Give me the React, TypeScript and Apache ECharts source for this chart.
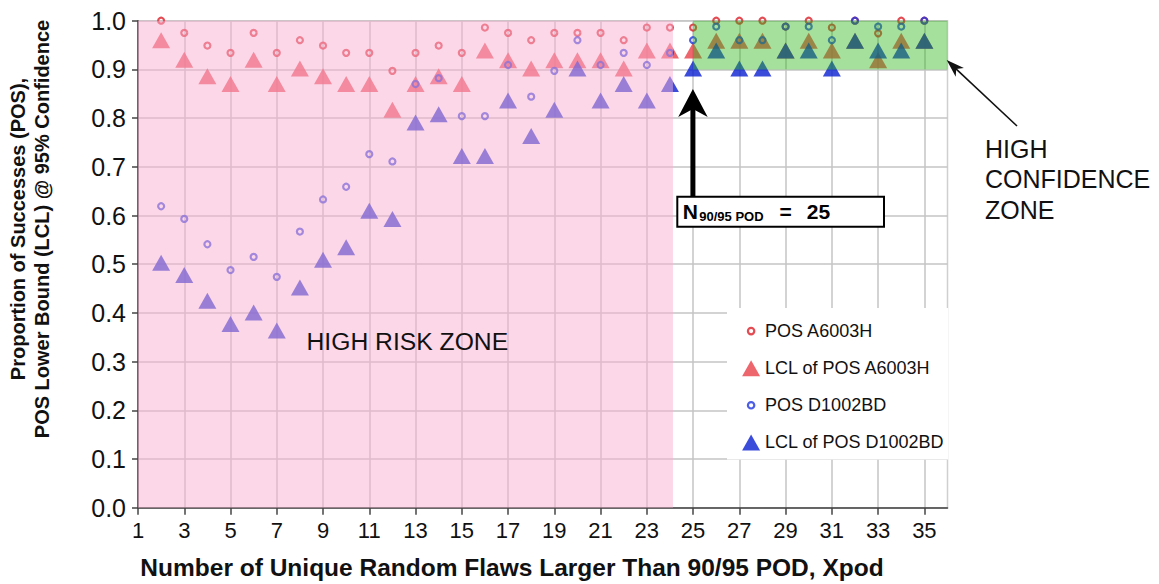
import React, { useEffect, useRef } from "react";
import * as echarts from "echarts";

const FONT = "'Liberation Sans', Arial, Helvetica, sans-serif";

const xValues = [2, 3, 4, 5, 6, 7, 8, 9, 10, 11, 12, 13, 14, 15, 16, 17, 18, 19, 20, 21, 22, 23, 24, 25, 26, 27, 28, 29, 30, 31, 32, 33, 34, 35];

const posA6003H = [1.0, 0.975, 0.949, 0.934, 0.975, 0.934, 0.96, 0.949, 0.934, 0.934, 0.897, 0.934, 0.949, 0.934, 0.986, 0.975, 0.96, 0.975, 0.975, 0.975, 0.96, 0.986, 0.986, 0.986, 1.0, 1.0, 1.0, 0.988, 1.0, 0.986, 1.0, 0.974, 1.0, 1.0];

const lclA6003H = [0.96, 0.92, 0.886, 0.87, 0.92, 0.87, 0.902, 0.886, 0.87, 0.87, 0.817, 0.87, 0.886, 0.87, 0.939, 0.919, 0.902, 0.919, 0.919, 0.919, 0.902, 0.939, 0.939, 0.939, 0.959, 0.959, 0.959, 0.939, 0.959, 0.939, 0.959, 0.919, 0.959, 0.959];

const posD1002BD = [0.619, 0.593, 0.541, 0.488, 0.515, 0.474, 0.567, 0.633, 0.659, 0.726, 0.711, 0.87, 0.882, 0.804, 0.804, 0.909, 0.844, 0.897, 0.96, 0.909, 0.934, 0.909, 0.934, 0.96, 0.988, 0.96, 0.96, 0.988, 0.988, 0.96, 1.0, 0.988, 0.988, 1.0];

const lclD1002BD = [0.503, 0.478, 0.425, 0.377, 0.401, 0.364, 0.452, 0.509, 0.535, 0.61, 0.593, 0.791, 0.808, 0.722, 0.722, 0.836, 0.763, 0.817, 0.902, 0.836, 0.87, 0.836, 0.87, 0.902, 0.939, 0.902, 0.902, 0.939, 0.939, 0.902, 0.959, 0.939, 0.939, 0.959];

const xTickValues = [1, 3, 5, 7, 9, 11, 13, 15, 17, 19, 21, 23, 25, 27, 29, 31, 33, 35];

const seriesNames = ["POS A6003H", "LCL of POS A6003H", "POS D1002BD", "LCL of POS D1002BD"];

const highRiskZone = [1, 24.13, 0, 1];
const highConfidenceZone = [25, 36, 0.9, 1];

const RED_C = "#dc1f28";
const RED_T = "#e83e48";
const BLUE_C = "#1f36e0";
const BLUE_T = "#0a1fd2";
const PINK = "rgba(249,175,210,0.5)";
const GREEN = "rgba(40,180,20,0.42)";

const ringIcon = "path://M0,0M18,16M12.2,8A3.2,3.2,0,1,1,5.8,8A3.2,3.2,0,1,1,12.2,8Z";

function pairs(ys: number[]) {
  return xValues.map((x, i) => [x, ys[i]]);
}

export default function App() {
  const ref = useRef<HTMLDivElement>(null);

  useEffect(() => {
    if (!ref.current) return;
    const chart = echarts.init(ref.current, null, { renderer: "svg" });

    const option: any = {
      animation: false,
      backgroundColor: "#fff",
      textStyle: { fontFamily: FONT },
      grid: {
        left: 138,
        right: 211.5,
        top: 20.7,
        bottom: 76.3,
        show: true,
        borderColor: "#cfcfcf",
        borderWidth: 1.5,
        containLabel: false,
        outerBoundsMode: "none",
      },
      xAxis: {
        type: "value",
        min: 1,
        max: 36,
        axisLine: { show: true, lineStyle: { color: "#444", width: 1.5 } },
        axisTick: { show: true, customValues: xTickValues, length: 7, lineStyle: { color: "#444", width: 1.5 } },
        axisLabel: { customValues: xTickValues, fontSize: 22, color: "#111", margin: 12, fontFamily: FONT },
        splitLine: { show: true, lineStyle: { color: "#c4c4c4", width: 1.5 } },
      },
      yAxis: {
        type: "value",
        min: 0,
        max: 1,
        interval: 0.1,
        axisLine: { show: true, lineStyle: { color: "#444", width: 1.5 } },
        axisTick: { show: true, length: 6, lineStyle: { color: "#444", width: 1.5 } },
        axisLabel: {
          fontSize: 25,
          color: "#111",
          margin: 12,
          fontFamily: FONT,
          formatter: (v: number) => v.toFixed(1),
        },
        splitLine: { show: true, lineStyle: { color: "#c4c4c4", width: 1.5 } },
      },
      legend: {
        orient: "vertical",
        left: 727,
        top: 308,
        padding: [14, 4, 8, 14],
        backgroundColor: "#fff",
        itemWidth: 18,
        itemHeight: 16,
        itemGap: 19,
        selectedMode: false,
        textStyle: { fontSize: 18, color: "#111", fontFamily: FONT },
        data: [
          { name: seriesNames[0], icon: ringIcon, itemStyle: { color: "rgba(0,0,0,0)", borderColor: RED_C, borderWidth: 2.2 } },
          { name: seriesNames[1], icon: "triangle", itemStyle: { color: RED_T, borderWidth: 0 } },
          { name: seriesNames[2], icon: ringIcon, itemStyle: { color: "rgba(0,0,0,0)", borderColor: BLUE_C, borderWidth: 2.2 } },
          { name: seriesNames[3], icon: "triangle", itemStyle: { color: BLUE_T, borderWidth: 0 } },
        ],
      },
      series: [
        {
          name: seriesNames[0],
          type: "scatter",
          symbol: "circle",
          symbolSize: 6,
          itemStyle: { color: "rgba(0,0,0,0)", borderColor: RED_C, borderWidth: 2.2 },
          data: pairs(posA6003H),
          z: 2,
        },
        {
          name: seriesNames[1],
          type: "scatter",
          symbol: "triangle",
          symbolSize: [18, 16],
          itemStyle: { color: RED_T },
          data: pairs(lclA6003H),
          z: 2,
        },
        {
          name: seriesNames[2],
          type: "scatter",
          symbol: "circle",
          symbolSize: 6,
          itemStyle: { color: "rgba(0,0,0,0)", borderColor: BLUE_C, borderWidth: 2.2 },
          data: pairs(posD1002BD),
          z: 2,
        },
        {
          name: seriesNames[3],
          type: "scatter",
          symbol: "triangle",
          symbolSize: [18, 16],
          itemStyle: { color: BLUE_T },
          data: pairs(lclD1002BD),
          z: 2,
        },
        {
          name: "zones",
          type: "scatter",
          data: [],
          silent: true,
          z: 10,
          markArea: {
            silent: true,
            z: 10,
            data: [
              [
                { xAxis: highRiskZone[0], yAxis: highRiskZone[2], itemStyle: { color: PINK } },
                { xAxis: highRiskZone[1], yAxis: highRiskZone[3] },
              ],
              [
                { xAxis: highConfidenceZone[0], yAxis: highConfidenceZone[2], itemStyle: { color: GREEN } },
                { xAxis: highConfidenceZone[1], yAxis: highConfidenceZone[3] },
              ],
            ],
          },
        },
      ],
      graphic: [
        {
          type: "text",
          x: 30,
          y: 229,
          rotation: Math.PI / 2,
          z: 100,
          style: {
            text: "Proportion of Successes (POS),\nPOS Lower Bound (LCL) @ 95% Confidence",
            fontSize: 20,
            fontWeight: "bold",
            fontFamily: FONT,
            fill: "#111",
            align: "center",
            verticalAlign: "middle",
            lineHeight: 24,
          },
        },
        {
          type: "text",
          x: 512,
          y: 567,
          z: 100,
          style: {
            text: "Number of Unique Random Flaws Larger Than 90/95 POD, Xpod",
            fontSize: 24.5,
            fontWeight: "bold",
            fontFamily: FONT,
            fill: "#111",
            align: "center",
            verticalAlign: "middle",
          },
        },
        {
          type: "text",
          x: 306.5,
          y: 341.7,
          z: 100,
          style: {
            text: "HIGH RISK ZONE",
            fontSize: 24.7,
            fontFamily: FONT,
            fill: "#111",
            align: "left",
            verticalAlign: "middle",
          },
        },
        {
          type: "text",
          x: 985,
          y: 179,
          z: 100,
          style: {
            text: "HIGH\nCONFIDENCE\nZONE",
            fontSize: 25,
            fontFamily: FONT,
            fill: "#111",
            align: "left",
            verticalAlign: "middle",
            lineHeight: 30.5,
          },
        },
        {
          type: "line",
          z: 100,
          shape: { x1: 1017, y1: 126, x2: 956, y2: 68.9 },
          style: { stroke: "#111", lineWidth: 1.6 },
        },
        {
          type: "polygon",
          z: 100,
          shape: { points: [[946.7, 60], [963.9, 67.9], [956.2, 68.9], [955.7, 76.7]] },
          style: { fill: "#111" },
        },
        {
          type: "rect",
          z: 100,
          shape: { x: 690.4, y: 108, width: 5, height: 89 },
          style: { fill: "#000" },
        },
        {
          type: "polygon",
          z: 100,
          shape: { points: [[692.9, 89], [707.7, 117], [692.9, 109], [678.2, 117]] },
          style: { fill: "#000" },
        },
        {
          type: "rect",
          z: 100,
          shape: { x: 677.3, y: 196.7, width: 206.7, height: 30 },
          style: { fill: "#fff", stroke: "#000", lineWidth: 2 },
        },
        {
          type: "text",
          x: 682.7,
          y: 211,
          z: 101,
          style: { text: "N", fontSize: 21, fontWeight: "bold", fontFamily: FONT, fill: "#000", align: "left", verticalAlign: "middle" },
        },
        {
          type: "text",
          x: 699.3,
          y: 216.4,
          z: 101,
          style: { text: "90/95 POD", fontSize: 13, fontWeight: "bold", fontFamily: FONT, fill: "#000", align: "left", verticalAlign: "middle" },
        },
        {
          type: "text",
          x: 779.5,
          y: 211,
          z: 101,
          style: { text: "=", fontSize: 21, fontWeight: "bold", fontFamily: FONT, fill: "#000", align: "left", verticalAlign: "middle" },
        },
        {
          type: "text",
          x: 806.7,
          y: 211,
          z: 101,
          style: { text: "25", fontSize: 21, fontWeight: "bold", fontFamily: FONT, fill: "#000", align: "left", verticalAlign: "middle" },
        },
      ],
    };

    chart.setOption(option);
    return () => chart.dispose();
  }, []);

  return (
    <div
      ref={ref}
      style={{ position: "fixed", left: 0, top: 0, width: 1159, height: 584, background: "#fff" }}
    />
  );
}
